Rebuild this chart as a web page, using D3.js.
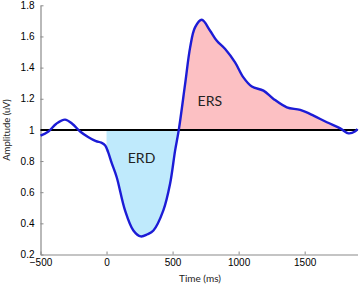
<!DOCTYPE html>
<html>
<head>
<meta charset="utf-8">
<script src="https://cdn.jsdelivr.net/npm/d3@7"></script>
<style>
  html, body { margin: 0; padding: 0; background: #fff; }
  svg { display: block; }
</style>
</head>
<body>
<svg id="chart" width="364" height="293"></svg>
<script>
// ---- data ----
const timeMs = [-500, -440, -380, -314, -260, -200, -140, -80, -40, -10, 12, 40, 77, 140, 203, 259, 310, 355, 430, 481, 519, 547, 595, 633, 670, 721, 784, 835, 898, 973, 1036, 1100, 1188, 1264, 1365, 1466, 1567, 1668, 1769, 1832, 1883, 1900];
const amplitude = [0.963, 0.99, 1.04, 1.066, 1.04, 0.99, 0.955, 0.928, 0.918, 0.9, 0.857, 0.785, 0.696, 0.483, 0.354, 0.316, 0.33, 0.354, 0.483, 0.654, 0.867, 1.0, 1.295, 1.53, 1.658, 1.707, 1.637, 1.572, 1.519, 1.433, 1.337, 1.278, 1.252, 1.199, 1.145, 1.128, 1.092, 1.049, 1.01, 0.978, 0.991, 1.006];
const xTicks = [-500, 0, 500, 1000, 1500];
const yTicks = [0.2, 0.4, 0.6, 0.8, 1, 1.2, 1.4, 1.6, 1.8];
const baseline = 1;
const regions = [
  { name: "ERD", start: 0, end: 547, below: true, labelT: 265, labelV: 0.787 },
  { name: "ERS", start: 547, end: 1785, below: false, labelT: 782, labelV: 1.153 }
];

// ---- layout ----
const svg = d3.select("#chart");
const x = d3.scaleLinear().domain([-500, 1900]).range([40.5, 357.5]);
const y = d3.scaleLinear().domain([0.2, 1.8]).range([254.5, 5.3]);
const pts = timeMs.map((t, i) => [t, amplitude[i]]);

const defs = svg.append("defs");
regions.forEach((r, i) => {
  const y0 = r.below ? y(baseline) : y(1.8);
  const y1 = r.below ? y(0.2) : y(baseline);
  defs.append("clipPath").attr("id", "clip" + i)
    .append("rect")
    .attr("x", x(r.start)).attr("width", x(r.end) - x(r.start))
    .attr("y", y0).attr("height", y1 - y0);
});

const fills = ["#bfeafc", "#fcc0c3"];
const area = d3.area().curve(d3.curveCatmullRom.alpha(0.5))
  .x(d => x(d[0])).y0(y(baseline)).y1(d => y(d[1]));
regions.forEach((r, i) => {
  svg.append("path").datum(pts)
    .attr("d", area).attr("fill", fills[i]).attr("stroke", "none")
    .attr("clip-path", `url(#clip${i})`);
});

// axes
const axisColor = "#8a8a8a";
const gx = svg.append("g").attr("transform", `translate(0,${y(0.2)})`)
  .call(d3.axisBottom(x).tickValues(xTicks).tickSizeInner(-3).tickSizeOuter(0).tickPadding(6).tickFormat(d3.format("d")));
const gy = svg.append("g").attr("transform", `translate(${x(-500)},0)`)
  .call(d3.axisLeft(y).tickValues(yTicks).tickSizeInner(-3).tickSizeOuter(0).tickPadding(6).tickFormat(d3.format("~g")));
[gx, gy].forEach(g => {
  g.select(".domain").attr("stroke", axisColor).attr("stroke-width", 1.2);
  g.selectAll(".tick line").attr("stroke", axisColor);
  g.selectAll(".tick text").attr("fill", "#000").attr("font-family", "Liberation Sans, Arial, sans-serif").attr("font-size", 10);
});
gx.selectAll(".tick text").attr("dy", "0.55em");

// baseline
svg.append("line")
  .attr("x1", x(-500)).attr("x2", x(1900))
  .attr("y1", y(baseline)).attr("y2", y(baseline))
  .attr("stroke", "#000").attr("stroke-width", 2);

// curve
const line = d3.line().curve(d3.curveCatmullRom.alpha(0.5))
  .x(d => x(d[0])).y(d => y(d[1]));
svg.append("path").datum(pts)
  .attr("d", line).attr("fill", "none")
  .attr("stroke", "#1c1cd6").attr("stroke-width", 2.4)
  .attr("stroke-linejoin", "round");

// region labels
regions.forEach(r => {
  svg.append("text")
    .attr("x", x(r.labelT)).attr("y", y(r.labelV))
    .attr("text-anchor", "middle")
    .attr("font-family", "Lato, 'Open Sans', sans-serif")
    .attr("font-size", 14).attr("fill", "#222")
    .text(r.name);
});

// axis titles
svg.append("text")
  .attr("x", 200).attr("y", 282)
  .attr("text-anchor", "middle")
  .attr("font-family", "Lato, 'Open Sans', sans-serif")
  .attr("font-size", 10).attr("fill", "#222")
  .text("Time (ms)");
svg.append("text")
  .attr("transform", "translate(10,130) rotate(-90)")
  .attr("text-anchor", "middle")
  .attr("font-family", "Lato, 'Open Sans', sans-serif")
  .attr("font-size", 9.5).attr("fill", "#222")
  .text("Amplitude (uV)");
</script>
</body>
</html>
